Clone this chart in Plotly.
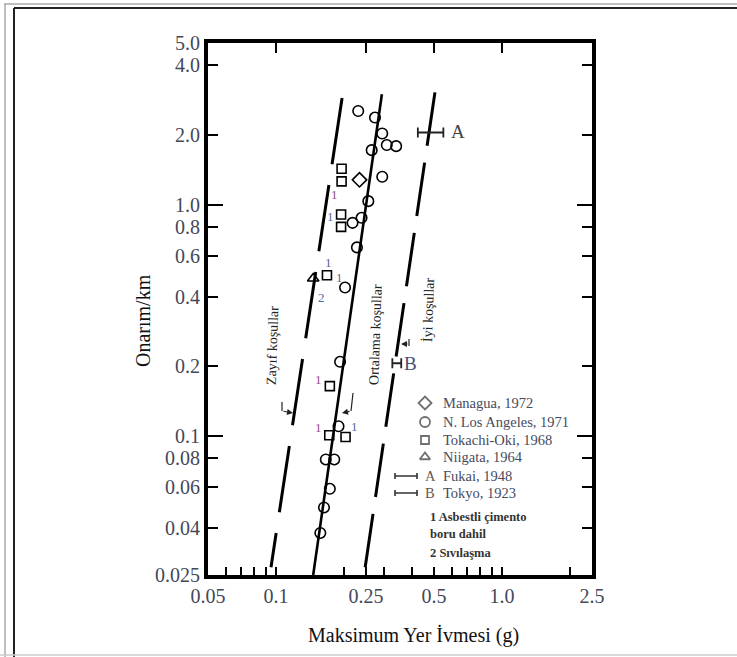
import math
import plotly.graph_objects as go

# ---------------- data ----------------
nla_pga = [0.231, 0.274, 0.295, 0.309, 0.340, 0.265, 0.295, 0.256, 0.218, 0.239,
           0.228, 0.202, 0.192, 0.189, 0.166, 0.181, 0.173, 0.163, 0.157]
nla_repairs = [2.54, 2.38, 2.03, 1.81, 1.79, 1.72, 1.32, 1.035, 0.834, 0.877,
               0.653, 0.438, 0.209, 0.110, 0.079, 0.079, 0.059, 0.049, 0.038]
managua_pga = [0.234]
managua_repairs = [1.28]
tokachi_pga = [0.195, 0.195, 0.194, 0.194, 0.168, 0.173, 0.172, 0.203]
tokachi_repairs = [1.43, 1.26, 0.906, 0.801, 0.495, 0.164, 0.1005, 0.0988]
niigata_pga = [0.146]
niigata_repairs = [0.479]
fukai_pga = [0.483]
fukai_pga_lo = [0.424]
fukai_pga_hi = [0.550]
fukai_repairs = [2.05]
tokyo_pga = [0.342]
tokyo_pga_lo = [0.327]
tokyo_pga_hi = [0.358]
tokyo_repairs = [0.206]

poor_pga = [0.196, 0.095]
poor_repairs = [2.89, 0.027]
avg_pga = [0.294, 0.146]
avg_repairs = [3.0, 0.025]
good_pga = [0.248, 0.505]
good_repairs = [0.027, 3.07]

x_tick_vals = [0.05, 0.1, 0.25, 0.5, 1.0, 2.5]
x_tick_text = ["0.05", "0.1", "0.25", "0.5", "1.0", "2.5"]
x_minor_vals = [0.06, 0.07, 0.08, 0.09, 0.2, 0.3, 0.4, 0.6, 0.7, 0.8, 0.9, 2.0]
x_top_vals = [0.1, 0.25, 0.5, 1.0]
y_tick_vals = [0.025, 0.04, 0.06, 0.08, 0.1, 0.2, 0.4, 0.6, 0.8, 1.0, 2.0, 4.0, 5.0]
y_tick_text = ["0.025", "0.04", "0.06", "0.08", "0.1", "0.2", "0.4", "0.6", "0.8",
               "1.0", "2.0", "4.0", "5.0"]
y_decade_vals = [0.1, 1.0]

legend_labels = ["Managua, 1972", "N. Los Angeles, 1971", "Tokachi-Oki, 1968", "Niigata, 1964"]
legend_symbols = ["diamond-open", "circle-open", "square-open", "triangle-up-open"]
bar_letters = ["A", "B"]
bar_labels = ["Fukai, 1948", "Tokyo, 1923"]
note_lines = ["1 Asbestli çimento", "boru dahil", "2 Sıvılaşma"]
condition_labels = ["Zayıf koşullar", "Ortalama koşullar", "İyi koşullar"]
x_title = "Maksimum Yer İvmesi (g)"
y_title = "Onarım/km"

# ---------------- layout helpers ----------------
W, H = 737, 657
L, R, T, B = 208, 592, 43, 575


def px(x):
    return (x - L) / (R - L)


def py(y):
    return (B - y) / (B - T)


SERIF = "Liberation Serif, Times New Roman, serif"
TICK_COLOR = "#434859"
LEG_COLOR = "#474b5e"
xr = [math.log10(0.05), math.log10(2.5)]
yr = [math.log10(0.025), math.log10(5.0)]

fig = go.Figure()

# condition lines
fig.add_trace(go.Scatter(x=poor_pga, y=poor_repairs, mode="lines",
                         line=dict(color="black", width=3, dash="67px,21px"),
                         hoverinfo="skip", showlegend=False))
fig.add_trace(go.Scatter(x=avg_pga, y=avg_repairs, mode="lines",
                         line=dict(color="black", width=2.6),
                         hoverinfo="skip", showlegend=False))
fig.add_trace(go.Scatter(x=good_pga, y=good_repairs, mode="lines",
                         line=dict(color="black", width=3, dash="54px,17px"),
                         hoverinfo="skip", showlegend=False))

mk = dict(color="black", line=dict(color="black", width=1.6))
fig.add_trace(go.Scatter(x=nla_pga, y=nla_repairs, mode="markers", name=legend_labels[1],
                         marker=dict(symbol="circle-open", size=10.5, **mk), showlegend=False))
fig.add_trace(go.Scatter(x=managua_pga, y=managua_repairs, mode="markers", name=legend_labels[0],
                         marker=dict(symbol="diamond-open", size=11, **mk), showlegend=False))
fig.add_trace(go.Scatter(x=tokachi_pga, y=tokachi_repairs, mode="markers", name=legend_labels[2],
                         marker=dict(symbol="square-open", size=9, **mk), showlegend=False))
fig.add_trace(go.Scatter(x=niigata_pga, y=niigata_repairs, mode="markers", name=legend_labels[3],
                         marker=dict(symbol="triangle-up-open", size=10, **mk), showlegend=False))

for xs, lo, hi, ys, nm in [(fukai_pga, fukai_pga_lo, fukai_pga_hi, fukai_repairs, "Fukai"),
                           (tokyo_pga, tokyo_pga_lo, tokyo_pga_hi, tokyo_repairs, "Tokyo")]:
    fig.add_trace(go.Scatter(
        x=xs, y=ys, mode="markers", name=nm,
        marker=dict(size=1, color="rgba(0,0,0,0)"),
        error_x=dict(type="data", symmetric=False,
                     array=[h - c for h, c in zip(hi, xs)],
                     arrayminus=[c - l for c, l in zip(xs, lo)],
                     color="#222", thickness=1.8, width=5),
        showlegend=False, hoverinfo="skip"))

# dummy traces to register helper axes
fig.add_trace(go.Scatter(x=[None], y=[None], xaxis="x2", yaxis="y", showlegend=False, hoverinfo="skip"))
fig.add_trace(go.Scatter(x=[None], y=[None], xaxis="x", yaxis="y2", showlegend=False, hoverinfo="skip"))

# hand-drawn legend on a unit overlay axis
leg_rows = [403, 422, 440, 457]
fig.add_trace(go.Scatter(
    x=[px(425)] * 4, y=[py(r) for r in leg_rows], mode="markers",
    marker=dict(symbol=legend_symbols, size=[10, 10, 8, 9], color="#333",
                line=dict(color="#333", width=1.8)),
    xaxis="x3", yaxis="y3", showlegend=False, hoverinfo="skip"))
bar_rows = [476, 493]
fig.add_trace(go.Scatter(
    x=[px(406)] * 2, y=[py(r) for r in bar_rows], mode="markers",
    marker=dict(size=1, color="rgba(0,0,0,0)"),
    error_x=dict(type="constant", value=11 / (R - L), color="#333", thickness=1.6, width=3),
    xaxis="x3", yaxis="y3", showlegend=False, hoverinfo="skip"))

ann = []
for lab, r in zip(legend_labels, leg_rows):
    ann.append(dict(x=px(441), y=py(r), xref="paper", yref="paper", text=lab, showarrow=False,
                    xanchor="left", yanchor="middle", font=dict(family=SERIF, size=14.5, color=LEG_COLOR)))
for let, lab, r in zip(bar_letters, bar_labels, bar_rows):
    ann.append(dict(x=px(423), y=py(r), xref="paper", yref="paper", text=let, showarrow=False,
                    xanchor="left", yanchor="middle", font=dict(family=SERIF, size=14.5, color="#6a5550")))
    ann.append(dict(x=px(441), y=py(r), xref="paper", yref="paper", text=lab, showarrow=False,
                    xanchor="left", yanchor="middle", font=dict(family=SERIF, size=14.5, color=LEG_COLOR)))
for txt, r in zip(note_lines, [517, 534, 553]):
    ann.append(dict(x=px(428), y=py(r), xref="paper", yref="paper", text="<b>" + txt + "</b>", showarrow=False,
                    xanchor="left", yanchor="middle", font=dict(family=SERIF, size=12.5, color="#333")))

# letters next to the bars
ann.append(dict(x=px(458), y=py(132), xref="paper", yref="paper", text="A", showarrow=False,
                xanchor="center", yanchor="middle", font=dict(family=SERIF, size=19, color="#444")))
ann.append(dict(x=px(410), y=py(363), xref="paper", yref="paper", text="B", showarrow=False,
                xanchor="center", yanchor="middle", font=dict(family=SERIF, size=19, color="#4a5070")))

# footnote numbers near points
PURP, BLUE = "#8a4f7d", "#4f6a9a"
for t, xx, yy, c in [("1", 334, 194, PURP), ("1", 330, 216, BLUE), ("1", 328, 262, BLUE),
                     ("1", 339, 277, PURP), ("2", 321, 297, BLUE), ("1", 318, 379, PURP),
                     ("1", 318, 427, PURP), ("1", 354, 426, BLUE)]:
    ann.append(dict(x=px(xx), y=py(yy), xref="paper", yref="paper", text=t, showarrow=False,
                    xanchor="center", yanchor="middle", font=dict(family=SERIF, size=13, color=c)))

# condition labels (rotated)
for lab, (cx, cy) in zip(condition_labels, [(272, 346), (375, 335), (428, 310)]):
    ann.append(dict(x=px(cx), y=py(cy), xref="paper", yref="paper", text=lab, showarrow=False,
                    textangle=-88, xanchor="center", yanchor="middle",
                    font=dict(family=SERIF, size=14, color="#222")))

# small pointer arrows
for tipx, tipy, tailx, taily in [(293, 413, 282, 411), (342, 413, 351, 411), (401, 344, 409, 344)]:
    ann.append(dict(x=px(tipx), y=py(tipy), xref="paper", yref="paper", text="",
                    showarrow=True, ax=tailx - tipx, ay=taily - tipy,
                    arrowhead=2, arrowsize=1, arrowwidth=1.2, arrowcolor="#222"))

# axis titles
ann.append(dict(x=px(413), y=py(635), xref="paper", yref="paper", text=x_title, showarrow=False,
                xanchor="center", yanchor="middle", font=dict(family=SERIF, size=20, color="#111")))
ann.append(dict(x=px(143), y=py(321), xref="paper", yref="paper", text=y_title, showarrow=False,
                textangle=-90, xanchor="center", yanchor="middle",
                font=dict(family=SERIF, size=20, color="#111")))

shapes = []
for x0, y0, x1, y1 in [(282, 402, 282, 411), (353, 393, 351, 411), (409, 339, 409, 346)]:
    shapes.append(dict(type="line", xref="paper", yref="paper", x0=px(x0), y0=py(y0), x1=px(x1), y1=py(y1),
                       line=dict(color="#222", width=1.2)))
# picture frame
for x0, y0, x1, y1, c, w in [(4, 4, 737, 4, "#aaa", 1.5), (5, 4, 5, 657, "#aaa", 1.5),
                             (14, 8, 737, 8, "#222", 2), (14, 8, 14, 657, "#222", 2),
                             (0, 655, 737, 655, "#ccc", 1.5)]:
    shapes.append(dict(type="line", xref="paper", yref="paper", x0=px(x0), y0=py(y0), x1=px(x1), y1=py(y1),
                       line=dict(color=c, width=w)))

fig.update_layout(
    width=W, height=H,
    margin=dict(l=L, r=W - R, t=T, b=H - B),
    paper_bgcolor="white", plot_bgcolor="white",
    showlegend=False,
    annotations=ann, shapes=shapes,
    xaxis=dict(type="log", range=xr, tickvals=x_tick_vals, ticktext=x_tick_text,
               ticks="inside", ticklen=8, tickwidth=2, tickcolor="black",
               showline=True, linewidth=4, linecolor="black", mirror=True,
               showgrid=False, zeroline=False,
               tickfont=dict(family=SERIF, size=20, color=TICK_COLOR),
               minor=dict(tickvals=x_minor_vals, ticks="inside", ticklen=8, tickwidth=2,
                          tickcolor="black", showgrid=False)),
    xaxis2=dict(type="log", range=xr, overlaying="x", side="top", anchor="y",
                tickvals=x_top_vals, ticks="inside", ticklen=10, tickwidth=2, tickcolor="black",
                showticklabels=False, showline=False, showgrid=False, zeroline=False),
    yaxis=dict(type="log", range=yr, tickvals=y_tick_vals, ticktext=y_tick_text,
               ticks="inside", ticklen=10, tickwidth=2, tickcolor="black",
               showline=True, linewidth=4, linecolor="black", mirror="ticks",
               showgrid=False, zeroline=False,
               tickfont=dict(family=SERIF, size=20, color=TICK_COLOR)),
    yaxis2=dict(type="log", range=yr, overlaying="y", side="left", anchor="x",
                tickvals=y_decade_vals, ticks="inside", ticklen=15, tickwidth=2, tickcolor="black",
                mirror="ticks", showticklabels=False, showline=False, showgrid=False, zeroline=False),
    xaxis3=dict(range=[0, 1], overlaying="x", visible=False, fixedrange=True),
    yaxis3=dict(range=[0, 1], overlaying="y", visible=False, fixedrange=True),
)

fig.write_html("out.html", config={"displayModeBar": False},
               post_script="document.body.style.margin='0';document.body.style.overflow='hidden';")
